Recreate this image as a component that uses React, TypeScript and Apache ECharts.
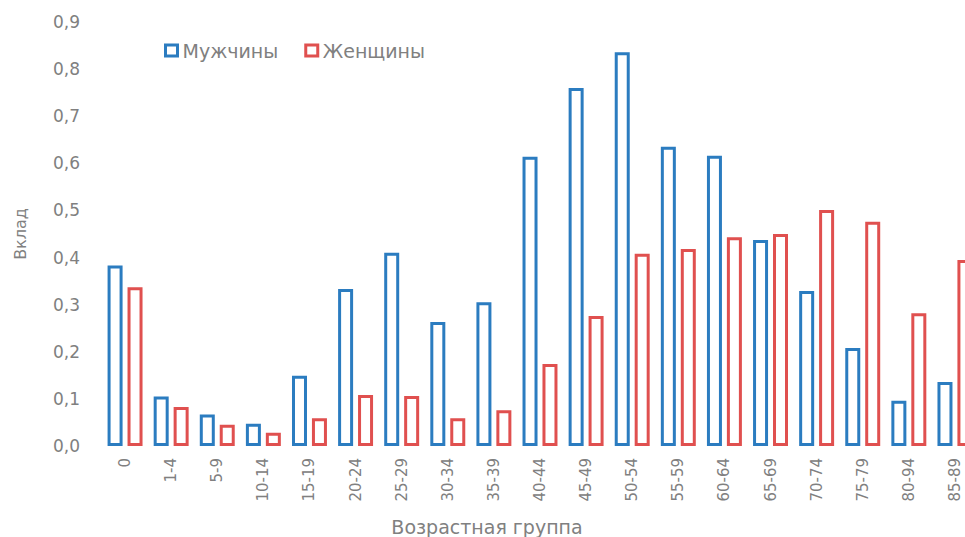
import React, { useEffect, useRef } from "react";
import * as echarts from "echarts";

const categories = ["0","1-4","5-9","10-14","15-19","20-24","25-29","30-34","35-39","40-44","45-49","50-54","55-59","60-64","65-69","70-74","75-79","80-94","85-89"];
const men = [0.383,0.105,0.067,0.047,0.149,0.333,0.41,0.263,0.305,0.614,0.76,0.836,0.635,0.616,0.437,0.329,0.208,0.096,0.136];
const women = [0.337,0.083,0.045,0.028,0.059,0.108,0.106,0.059,0.076,0.174,0.276,0.408,0.418,0.443,0.45,0.501,0.476,0.282,0.395];
const yTicks = { min: 0, max: 0.9, interval: 0.1 };

const BLUE = "#2b7cc0";
const RED = "#e0504f";
const TEXT = "#808080";
const FONT = "DejaVu Sans";

export default function App() {
  const ref = useRef<HTMLDivElement>(null);
  useEffect(() => {
    if (!ref.current) return;
    const chart = echarts.init(ref.current, undefined, { renderer: "svg" });
    chart.setOption({
      animation: false,
      backgroundColor: "#ffffff",
      textStyle: { fontFamily: FONT },
      legend: {
        left: 159,
        top: 36,
        icon: "rect",
        itemWidth: 12,
        itemHeight: 11,
        itemGap: 26,
        textStyle: { color: TEXT, fontSize: 19, fontFamily: FONT },
        itemStyle: { borderWidth: 3 },
        data: ["Мужчины", "Женщины"],
      },
      grid: { left: 102, right: 12, top: 22, bottom: 91, containLabel: false, outerBoundsMode: "none" },
      xAxis: {
        type: "category",
        data: categories,
        name: "Возрастная группа",
        nameLocation: "middle",
        nameGap: 71,
        nameTextStyle: { color: TEXT, fontSize: 19, fontFamily: FONT, padding: [0, 106, 0, 0] },
        axisLine: { show: false },
        axisTick: { show: false },
        axisLabel: { rotate: 90, margin: 12, color: TEXT, fontSize: 15, fontFamily: FONT, interval: 0 },
      },
      yAxis: {
        type: "value",
        min: yTicks.min,
        max: yTicks.max,
        interval: yTicks.interval,
        name: "Вклад",
        nameLocation: "middle",
        nameGap: 74,
        nameTextStyle: { color: TEXT, fontSize: 16, fontFamily: FONT },
        splitLine: { show: false },
        axisLine: { show: false },
        axisTick: { show: false },
        axisLabel: {
          margin: 22,
          color: TEXT,
          fontSize: 17,
          fontFamily: FONT,
          formatter: (v: number) => v.toFixed(1).replace(".", ","),
        },
      },
      series: [
        {
          name: "Мужчины",
          type: "bar",
          data: men,
          barWidth: 15,
          barGap: "33%",
          itemStyle: { color: "#ffffff", borderColor: BLUE, borderWidth: 3 },
        },
        {
          name: "Женщины",
          type: "bar",
          data: women,
          barWidth: 15,
          itemStyle: { color: "#ffffff", borderColor: RED, borderWidth: 3 },
        },
      ],
    });
    return () => chart.dispose();
  }, []);
  return (
    <div style={{ position: "fixed", left: 0, top: 0, width: 965, height: 537, overflow: "hidden", background: "#fff" }}>
      <div ref={ref} style={{ width: 990, height: 537 }} />
    </div>
  );
}
